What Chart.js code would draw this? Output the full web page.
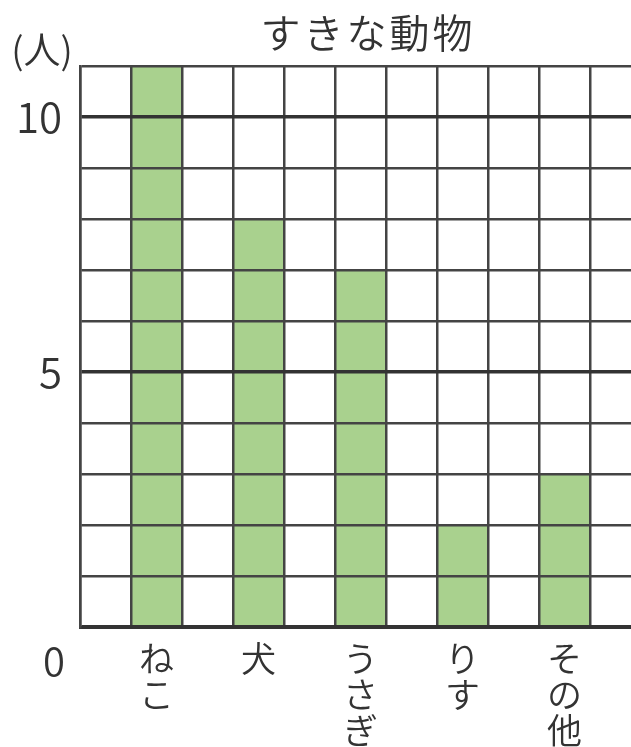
<!DOCTYPE html>
<html>
<head>
<meta charset="utf-8">
<script src="https://cdn.jsdelivr.net/npm/chart.js@4"></script>
<style>
  html, body { margin: 0; padding: 0; background: #fff; overflow: hidden; }
  #wrap { width: 641px; height: 747px; }
</style>
</head>
<body>
<div id="wrap"><canvas id="animalChart" width="641" height="747"></canvas></div>
<script>
// data
const animals = [["ね", "こ"], ["犬"], ["う", "さ", "ぎ"], ["り", "す"], ["そ", "の", "他"]];
const counts = [11, 8, 7, 2, 3];
const yTickLabels = [5, 10];
const title = "すきな動物";
const unit = "(人)";

const FONT = "'Noto Sans CJK JP', 'Noto Sans', sans-serif";
const INK = "#333333";

// empty column between each animal, one extra at the end
let labels = [];
let values = [];
animals.forEach((a, i) => {
  labels.push("", a);
  values.push(null, counts[i]);
});
labels.push("");
values.push(null);

// title, unit and the 0 label
const extraText = {
  id: "extraText",
  afterDraw(chart) {
    const ctx = chart.ctx;
    ctx.save();
    ctx.fillStyle = INK;
    ctx.textBaseline = "middle";
    ctx.textAlign = "center";
    ctx.font = "350 40px " + FONT;
    ctx.letterSpacing = "3px";
    ctx.fillText(title, 368, 33);
    ctx.letterSpacing = "0px";
    ctx.font = "350 37px " + FONT;
    ctx.fillText(unit, 42, 50);
    ctx.font = "350 40px " + FONT;
    ctx.fillText("0", 54, chart.scales.y.bottom + 34);
    ctx.restore();
  },
};

let ctxA = document.getElementById("animalChart").getContext("2d");
let animalChart = new Chart(ctxA, {
  type: "bar",
  data: {
    labels: labels,
    datasets: [
      {
        data: values,
        backgroundColor: "#a9d18e",
        borderWidth: 0,
        barPercentage: 1,
        categoryPercentage: 1,
      },
    ],
  },
  options: {
    responsive: false,
    animation: false,
    layout: { padding: { top: 66, left: 0, right: 0, bottom: 0 } },
    plugins: {
      legend: { display: false },
      tooltip: { enabled: false },
    },
    scales: {
      x: {
        grid: {
          z: 1,
          offset: true,
          color: "#444444",
          lineWidth: 2.5,
          drawTicks: false,
        },
        border: { z: 2, color: INK, width: 3 },
        ticks: {
          color: INK,
          font: { family: FONT, size: 35, weight: 350, lineHeight: 1.03 },
          padding: 14,
          maxRotation: 0,
          autoSkip: false,
        },
        afterFit(scale) {
          scale.height = 120;
        },
      },
      y: {
        min: 0,
        max: 11,
        grid: {
          z: 1,
          color: (c) => (c.tick && c.tick.value % 5 === 0 ? "#333333" : "#444444"),
          lineWidth: (c) => (c.tick && c.tick.value % 5 === 0 ? 3.5 : 2.5),
          drawTicks: false,
        },
        border: { z: 2, color: "#444444", width: 2.5 },
        ticks: {
          stepSize: 1,
          autoSkip: false,
          color: INK,
          padding: 18,
          font: { family: FONT, size: 42, weight: 350 },
          callback: (v) => (yTickLabels.includes(v) ? String(v) : ""),
        },
        afterFit(scale) {
          scale.width = 80;
        },
      },
    },
  },
  plugins: [extraText],
});
</script>
</body>
</html>
